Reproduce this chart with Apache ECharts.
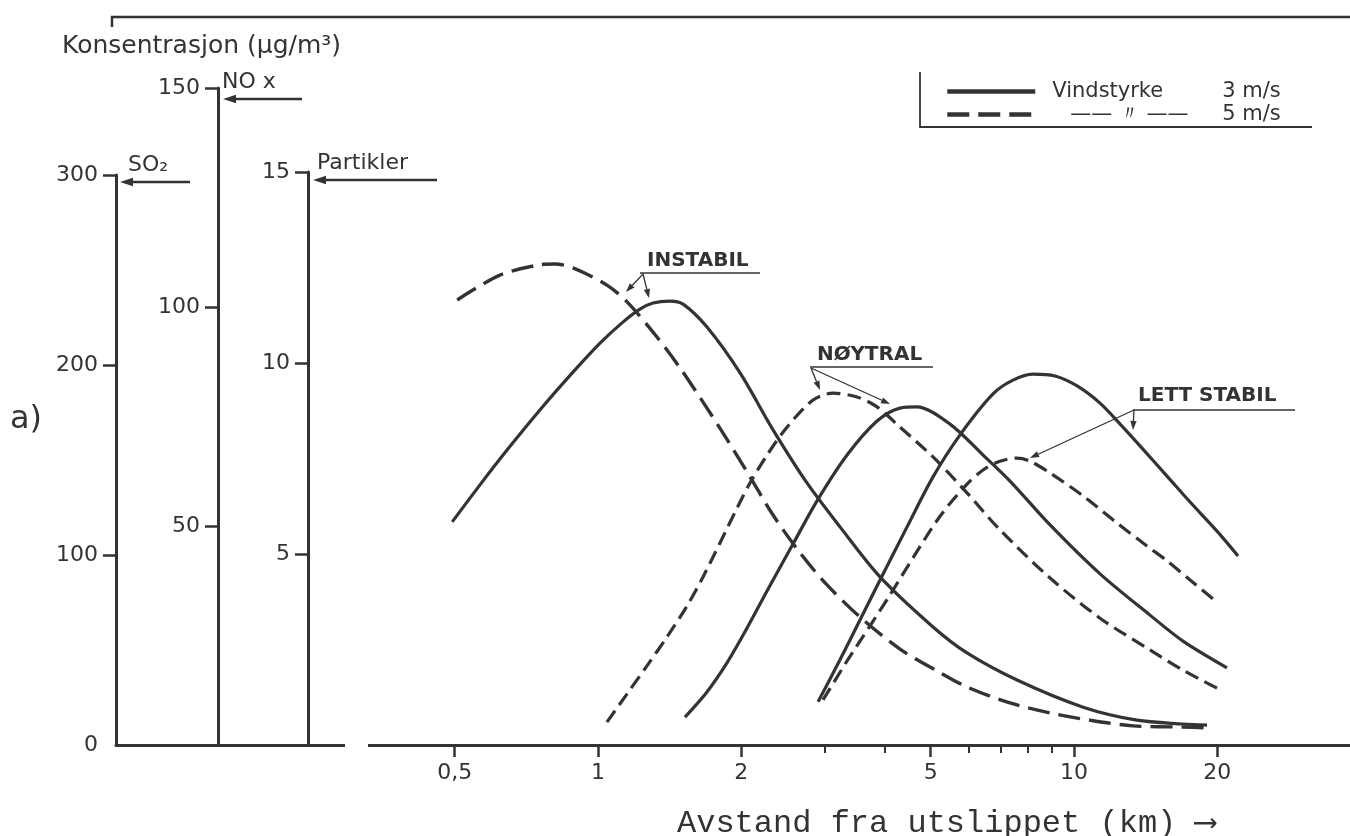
<!DOCTYPE html>
<html><head><meta charset="utf-8">
<script src="https://cdn.jsdelivr.net/npm/echarts@6/dist/echarts.min.js"></script>
<style>html,body{margin:0;padding:0;background:#fff}#c{width:1350px;height:836px}</style>
</head><body><div id="c"></div>
<script>
// ---- data (x: distance km, y: concentration in "Partikler" units; SO2 = 20x, shared baseline) ----
const xMajorTicks = [0.5, 1, 2, 5, 10, 20];
const xMinorTicks = [3, 4, 6, 7, 8, 9];
const xRange = [0.2459, 38.0];
const so2Ticks = [0, 300, 100];
const so2TickMarks = [100, 200, 300];
const noxTicks = [0, 150, 50];
const partTicks = [0, 15, 5];

const instabil3 = [[0.494,5.84],[0.565,6.81],[0.644,7.72],[0.755,8.77],[0.886,9.76],[1.01,10.52],[1.128,11.07],[1.225,11.41],[1.305,11.57],[1.416,11.62],[1.509,11.54],[1.694,10.94],[1.988,9.74],[2.332,8.25],[2.748,6.86],[3.224,5.71],[3.913,4.40],[5.056,3.09],[5.959,2.41],[7.591,1.70],[10.45,0.99],[13.56,0.65],[16.94,0.55],[19.03,0.52]];
const instabil5 = [[0.506,11.65],[0.622,12.30],[0.755,12.57],[0.812,12.59],[0.886,12.49],[1.044,12.04],[1.151,11.60],[1.330,10.68],[1.487,9.87],[1.694,8.82],[1.921,7.75],[2.086,7.02],[2.332,6.02],[2.657,5.03],[3.028,4.19],[3.551,3.35],[4.310,2.51],[5.155,1.94],[5.959,1.52],[7.337,1.10],[8.906,0.84],[10.80,0.65],[13.30,0.50],[16.94,0.47],[19.03,0.45]];
const noytral3 = [[1.523,0.73],[1.694,1.39],[1.866,2.15],[2.056,3.06],[2.265,4.03],[2.568,5.26],[2.885,6.39],[3.336,7.59],[3.857,8.48],[4.310,8.82],[4.679,8.85],[5.490,8.40],[6.441,7.59],[7.337,6.91],[8.906,5.76],[11.34,4.48],[14.44,3.40],[16.94,2.72],[20.96,2.02]];
const noytral5 = [[1.044,0.60],[1.151,1.34],[1.267,2.07],[1.396,2.83],[1.538,3.64],[1.662,4.40],[1.804,5.29],[1.959,6.20],[2.086,6.86],[2.265,7.59],[2.495,8.32],[2.830,9.03],[3.117,9.21],[3.501,9.11],[3.857,8.85],[4.310,8.32],[5.056,7.54],[5.959,6.60],[6.991,5.63],[8.906,4.37],[11.34,3.32],[14.44,2.49],[16.94,1.96],[19.97,1.49]];
const lettStabil3 = [[2.900,1.13],[3.224,2.23],[3.551,3.27],[3.913,4.32],[4.459,5.71],[5.056,7.02],[5.763,8.12],[6.758,9.19],[7.443,9.55],[8.203,9.71],[9.123,9.66],[10.15,9.40],[11.34,8.95],[12.50,8.40],[13.76,7.83],[15.68,7.04],[17.53,6.36],[19.97,5.60],[22.11,4.95]];
const lettStabil5 = [[2.970,1.18],[3.336,2.20],[3.728,3.12],[4.106,3.93],[4.589,4.90],[5.231,5.99],[5.959,6.83],[6.441,7.20],[6.991,7.43],[7.591,7.51],[8.085,7.43],[8.906,7.12],[10.45,6.52],[12.31,5.81],[14.23,5.21],[15.68,4.82],[17.53,4.32],[19.97,3.74]];

const name3 = 'Vindstyrke 3 m/s';
const name5 = '—— 〃 —— 5 m/s';

// ---- styling ----
const C = '#333';
const SANS = "'DejaVu Sans', sans-serif";
const MONO = "'Liberation Mono', 'DejaVu Sans Mono', monospace";

function yAx(gridIndex, t, name, padL, gap, showMin, tickVals) {
  const tick = { show: true, inside: false, length: 13, lineStyle: { color: C, width: 2.5 } };
  if (tickVals) tick.customValues = tickVals;
  return {
    type: 'value', gridIndex, min: t[0], max: t[1], interval: t[2], position: 'left',
    name, nameLocation: 'end', nameGap: gap,
    nameTextStyle: { fontFamily: SANS, fontSize: 22, color: C, align: 'left', verticalAlign: 'middle', padding: [0, 0, 0, padL] },
    axisLine: { show: true, onZero: false, lineStyle: { color: C, width: 3 } },
    axisTick: tick,
    axisLabel: { show: true, margin: 18, fontFamily: SANS, fontSize: 22, color: C, showMinLabel: showMin },
    splitLine: { show: false }
  };
}

function arrow(x1, y1, x2, y2, w, head, hwr) {
  const dx = x2 - x1, dy = y2 - y1, L = Math.hypot(dx, dy), ux = dx / L, uy = dy / L;
  const bx = x2 - ux * head, by = y2 - uy * head, px = -uy, py = ux, hw = head * hwr;
  return [
    { type: 'line', z: 50, shape: { x1, y1, x2: bx, y2: by }, style: { stroke: C, lineWidth: w } },
    { type: 'polygon', z: 50, shape: { points: [[x2, y2], [bx + px * hw, by + py * hw], [bx - px * hw, by - py * hw]] }, style: { fill: C } }
  ];
}
function txt(x, y, text, font, align) {
  return { type: 'text', z: 50, x, y, style: { text, font, fill: C, align: align || 'left', textAlign: align || 'left', verticalAlign: 'middle', textVerticalAlign: 'middle' } };
}
function seg(points, w) {
  return { type: 'polyline', z: 50, shape: { points }, style: { stroke: C, lineWidth: w, fill: null } };
}

const graphics = [].concat(
  [seg([[112, 27], [112, 17], [1350, 17]], 2.5)],
  [txt(10, 420, 'a)', '32px ' + SANS)],
  [seg([[920, 72], [920, 127], [1312, 127]], 1.8)],
  arrow(190, 182, 120, 182, 2.5, 13, 0.33),
  arrow(302, 99, 223, 99, 2.5, 13, 0.33),
  arrow(437, 180, 313, 180, 2.5, 13, 0.33),
  [{ type: 'rect', z: 60, shape: { x: 345, y: 737, width: 23, height: 16 }, style: { fill: '#fff' } },
   txt(356, 745, '//', 'italic 15px ' + SANS, 'center')],
  [txt(647, 261, 'INSTABIL', 'bold 20px ' + SANS), seg([[640, 273], [760, 273]], 1.5)],
  arrow(643, 274, 626, 292, 1.3, 9, 0.35),
  arrow(643, 274, 649, 298, 1.3, 9, 0.35),
  [txt(817, 355, 'NØYTRAL', 'bold 20px ' + SANS), seg([[810, 367], [933, 367]], 1.5)],
  arrow(811, 368, 820, 390, 1.3, 9, 0.35),
  arrow(811, 368, 890, 404, 1.3, 9, 0.35),
  [txt(1138, 396, 'LETT STABIL', 'bold 20px ' + SANS), seg([[1133, 410], [1295, 410]], 1.5)],
  arrow(1134, 410, 1030, 458, 1.3, 9, 0.35),
  arrow(1134, 410, 1133, 430, 1.3, 9, 0.35)
);

function line(name, data, dash, w) {
  return {
    type: 'line', name, data, xAxisIndex: 0, yAxisIndex: 0, smooth: 0.3,
    symbol: 'none', showSymbol: false, clip: false,
    lineStyle: { color: C, width: w, type: dash || 'solid', cap: 'butt' },
    itemStyle: { color: C }, emphasis: { disabled: true }
  };
}

const fmt = v => String(Number(Number(v).toPrecision(6))).replace('.', ',');

const option = {
  animation: false,
  backgroundColor: '#fff',
  textStyle: { fontFamily: SANS, color: C },
  title: [
    { text: 'Konsentrasjon (μg/m³)', left: 57, top: 29, textStyle: { fontFamily: SANS, fontSize: 25, fontWeight: 'normal', color: C } },
    { text: 'Avstand fra utslippet (km) ⟶', left: 672, top: 803, textStyle: { fontFamily: MONO, fontSize: 32, fontWeight: 'normal', color: C } }
  ],
  legend: {
    left: 940, top: 76, orient: 'vertical', itemWidth: 88, itemHeight: 14, itemGap: 2,
    selectedMode: false, data: [name3, name5],
    itemStyle: { opacity: 0 },
    lineStyle: { width: 4.5, color: C },
    textStyle: { fontFamily: SANS, fontSize: 21, color: C,
      rich: {
        a: { fontFamily: SANS, fontSize: 21, color: C, width: 170, padding: [0, 0, 0, 12] },
        c: { fontFamily: SANS, fontSize: 21, color: C, width: 152, padding: [0, 0, 0, 30] },
        b: { fontFamily: SANS, fontSize: 21, color: C }
      } },
    formatter: n => n === name3 ? '{a|Vindstyrke}{b|3 m/s}' : '{c|—— 〃 ——}{b|5 m/s}'
  },
  grid: [
    { left: 308, right: 0, top: 172, bottom: 91, outerBoundsMode: 'none' },
    { left: 116, width: 192, top: 175, bottom: 91, outerBoundsMode: 'none' },
    { left: 218, width: 90, top: 88, bottom: 91, outerBoundsMode: 'none' }
  ],
  xAxis: [
    { type: 'log', logBase: 10, gridIndex: 0, min: xRange[0], max: xRange[1], position: 'bottom',
      axisLine: { show: true, onZero: false, lineStyle: { color: C, width: 3 } },
      axisTick: { show: true, inside: false, length: 12, customValues: xMajorTicks, lineStyle: { color: C, width: 2.5 } },
      axisLabel: { show: true, margin: 17, customValues: xMajorTicks, formatter: fmt, fontFamily: SANS, fontSize: 22, color: C },
      splitLine: { show: false }, minorTick: { show: false } },
    { type: 'log', logBase: 10, gridIndex: 0, min: xRange[0], max: xRange[1], position: 'bottom',
      axisLine: { show: false },
      axisTick: { show: true, inside: false, length: 8, customValues: xMinorTicks, lineStyle: { color: C, width: 2 } },
      axisLabel: { show: false }, splitLine: { show: false } },
    { type: 'value', gridIndex: 1, min: 0, max: 1, position: 'bottom',
      axisLine: { show: true, onZero: false, lineStyle: { color: C, width: 3 } },
      axisTick: { show: false }, axisLabel: { show: false }, splitLine: { show: false } },
    { type: 'value', gridIndex: 2, min: 0, max: 1, position: 'bottom', show: false }
  ],
  yAxis: [
    yAx(0, partTicks, 'Partikler', 9, 9, false),
    yAx(1, so2Ticks, 'SO₂', 12, 10, true, so2TickMarks),
    yAx(2, noxTicks, 'NO x', 4, 6, false)
  ],
  series: [
    line(name3, instabil3, 'solid', 3.2),
    line(name5, instabil5, [22, 9], 3.4),
    line(name3, noytral3, 'solid', 3.2),
    line(name5, noytral5, [14, 7], 3.2),
    line(name3, lettStabil3, 'solid', 3.2),
    line(name5, lettStabil5, [14, 7], 3.2)
  ],
  graphic: { elements: graphics }
};

const chart = echarts.init(document.getElementById('c'), null, { renderer: 'canvas' });
chart.setOption(option);
</script>
</body></html>
